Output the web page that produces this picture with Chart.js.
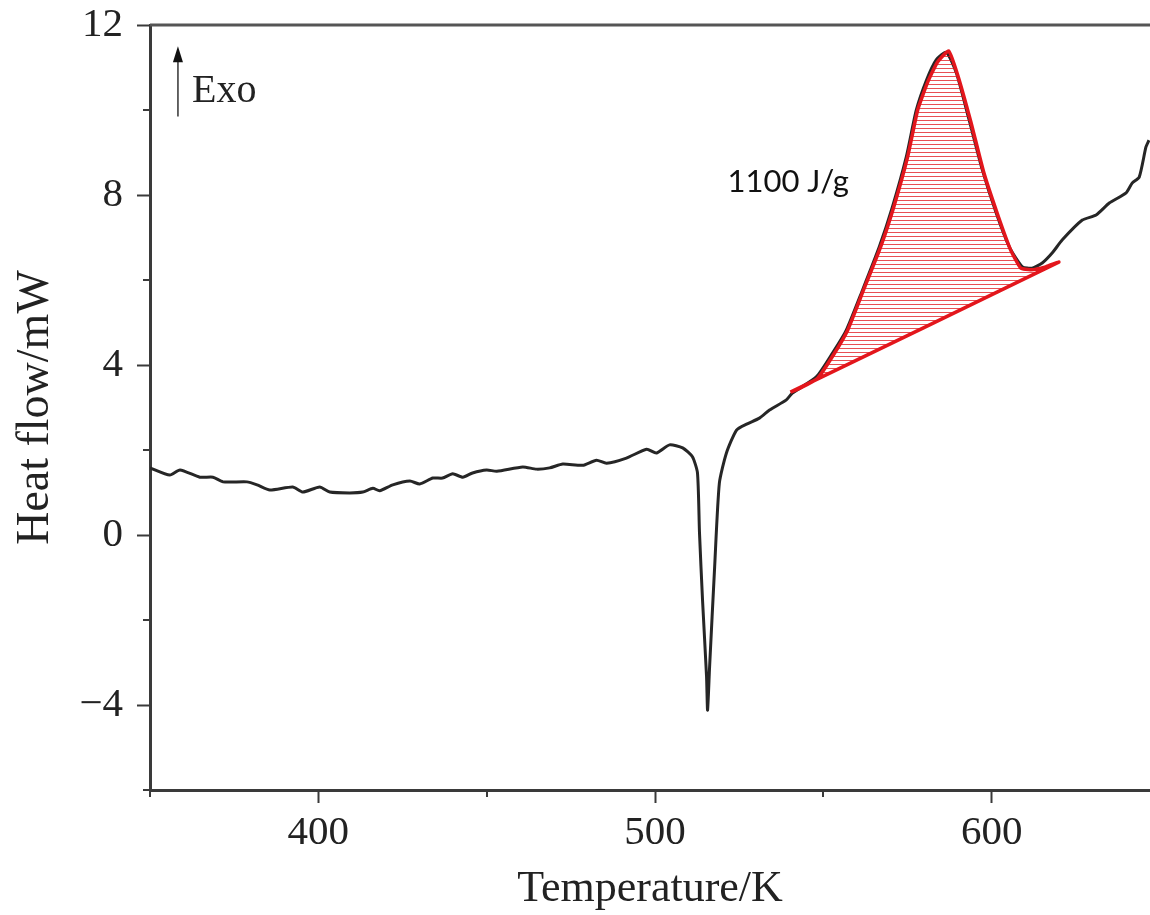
<!DOCTYPE html>
<html>
<head>
<meta charset="utf-8">
<script src="https://cdn.jsdelivr.net/npm/chart.js@4"></script>
<style>
  body { margin: 0; background: #fff; }
  canvas { display: block; }
</style>
</head>
<body>
<canvas id="myChart" width="1150" height="915"></canvas>
<script>
// DSC trace, temperature (K) vs heat flow (mW)
var temps = [350, 355.9, 358.9, 364.8, 368.7, 371.7, 378.8, 381.8, 385.6, 392.4,
  395.4, 400.4, 403.4, 409.3, 413.2, 416.2, 418.2, 422.1, 427.2, 430.1,
  434.0, 436.9, 439.9, 442.9, 445.8, 450.0, 453.0, 460.7, 464.8, 468.7,
  472.6, 478.5, 482.6, 485.6, 491.5, 497.5, 500.4, 504.3, 508.2, 511.1,
  512.6, 513.2, 514.1, 515.3, 515.6, 516.2, 517.7, 519.1, 521.2, 524.2,
  527.2, 531.0, 534.0, 539.0, 540.8, 547.9, 552.7, 556.8, 561.6, 566.6,
  570.5, 574.6, 577.6, 580.6, 583.5, 586.5, 589.5, 593.3, 597.2, 601.3,
  605.2, 609.1, 612.0, 615.0, 618.0, 620.9, 626.9, 631.0, 634.9, 639.9,
  641.7, 643.8, 645.8, 646.7];
var heatFlow = [1.58, 1.41, 1.53, 1.36, 1.36, 1.25, 1.25, 1.18, 1.06, 1.13,
  1.01, 1.13, 1.01, 0.99, 1.01, 1.10, 1.04, 1.18, 1.27, 1.20,
  1.34, 1.34, 1.44, 1.36, 1.46, 1.53, 1.50, 1.60, 1.55, 1.58,
  1.67, 1.64, 1.76, 1.69, 1.81, 2.02, 1.93, 2.12, 2.05, 1.84,
  1.46, 0.05, -1.53, -3.34, -4.12, -3.10, -0.75, 1.22, 1.93, 2.47,
  2.61, 2.75, 2.94, 3.18, 3.34, 3.72, 4.28, 4.82, 5.76, 6.78,
  7.72, 8.89, 10.0, 10.7, 11.18, 11.36, 10.87, 9.76, 8.59, 7.58,
  6.78, 6.31, 6.28, 6.40, 6.64, 6.94, 7.41, 7.53, 7.81, 8.05,
  8.28, 8.42, 9.13, 9.29];

// red integration outline: peak then baseline back to start
var peakX = [540.2, 543.2, 548.3, 553.0, 557.2, 561.9, 567.0, 570.9, 575.0, 578.0,
  581.0, 583.9, 587.2, 589.9, 593.8, 597.6, 601.8, 605.6, 608.6, 611.6,
  616.0, 619.9, 540.2];
var peakY = [3.36, 3.46, 3.69, 4.24, 4.82, 5.76, 6.78, 7.72, 8.89, 10.0,
  10.66, 11.13, 11.39, 10.82, 9.72, 8.54, 7.53, 6.71, 6.28, 6.24,
  6.31, 6.42, 3.36];

var xTicksMajor = [400, 500, 600];
var yTicksMajor = [-4, 0, 4, 8, 12];
var xTicksMinor = [350, 450, 550];
var yTicksMinor = [-6, -2, 2, 6, 10];

var enthalpyLabel = '1100 J/g';
var enthalpyPos = [521.5, 8.3];
var exoArrow = [358.3, 9.85, 11.5];
var exoLabel = 'Exo';

function toXY(xs, ys) {
  return xs.map(function (x, i) { return {x: x, y: ys[i]}; });
}
function fixedTicks(list) {
  return function (s) { s.ticks = list.map(function (v) { return {value: v}; }); };
}

var hatch = document.createElement('canvas');
hatch.width = 8; hatch.height = 4;
var hctx = hatch.getContext('2d');
hctx.fillStyle = 'rgba(224,20,25,0.75)';
hctx.fillRect(0, 0, 8, 1);

var serif = '"Liberation Serif", "Times New Roman", serif';
var axisColor = '#3a3a3a';

var extras = {
  id: 'extras',
  afterDraw: function (chart) {
    var c = chart.ctx, xs = chart.scales.x, ys = chart.scales.y, a = chart.chartArea;
    c.save();
    // top frame line
    c.strokeStyle = '#555';
    c.lineWidth = 3;
    c.beginPath();
    c.moveTo(a.left, a.top);
    c.lineTo(a.right, a.top);
    c.stroke();
    // minor ticks
    c.strokeStyle = axisColor;
    c.lineWidth = 2;
    c.beginPath();
    xTicksMinor.forEach(function (v) {
      var px = Math.round(xs.getPixelForValue(v));
      c.moveTo(px, a.bottom);
      c.lineTo(px, a.bottom + 7);
    });
    yTicksMinor.forEach(function (v) {
      var py = Math.round(ys.getPixelForValue(v));
      c.moveTo(a.left, py);
      c.lineTo(a.left - 7, py);
    });
    c.stroke();
    // Exo arrow
    var ax = xs.getPixelForValue(exoArrow[0]);
    var ay0 = ys.getPixelForValue(exoArrow[1]);
    var ay1 = ys.getPixelForValue(exoArrow[2]);
    c.strokeStyle = '#333';
    c.lineWidth = 1.5;
    c.beginPath();
    c.moveTo(ax, ay0);
    c.lineTo(ax, ay1 + 10);
    c.stroke();
    c.fillStyle = '#111';
    c.beginPath();
    c.moveTo(ax, ay1);
    c.lineTo(ax - 5, ay1 + 16);
    c.lineTo(ax + 5, ay1 + 16);
    c.closePath();
    c.fill();
    c.font = '40px ' + serif;
    c.fillStyle = '#222';
    c.textAlign = 'left';
    c.textBaseline = 'alphabetic';
    c.fillText(exoLabel, ax + 14, ys.getPixelForValue(10.2));
    // enthalpy annotation
    c.font = '31px Lato, "Open Sans", sans-serif';
    c.fillStyle = '#111';
    c.textBaseline = 'middle';
    c.fillText(enthalpyLabel, xs.getPixelForValue(enthalpyPos[0]), ys.getPixelForValue(enthalpyPos[1]));
    c.restore();
  }
};

var ctx = document.getElementById('myChart').getContext('2d');
var myChart = new Chart(ctx, {
  type: 'line',
  data: {
    datasets: [
      {
        data: toXY(peakX, peakY),
        borderColor: '#e3161c',
        borderWidth: 3.5,
        backgroundColor: ctx.createPattern(hatch, 'repeat'),
        fill: 'shape',
        pointRadius: 0,
        tension: 0.15,
        order: 0
      },
      {
        data: toXY(temps, heatFlow),
        borderColor: '#262626',
        borderWidth: 3,
        fill: false,
        pointRadius: 0,
        tension: 0.2,
        order: 1
      }
    ]
  },
  options: {
    responsive: false,
    animation: false,
    layout: { padding: { top: 25, right: 0, left: 0, bottom: 0 } },
    plugins: { legend: { display: false }, tooltip: { enabled: false } },
    scales: {
      x: {
        type: 'linear',
        min: 350,
        max: 647,
        afterBuildTicks: fixedTicks(xTicksMajor),
        afterFit: function (s) { s.height = 125; s.paddingLeft = 0; s.paddingRight = 0; },
        border: { color: axisColor, width: 3 },
        grid: { drawOnChartArea: false, tickLength: 13, tickColor: axisColor, tickWidth: 2 },
        ticks: {
          maxRotation: 0,
          autoSkip: false,
          padding: 6,
          color: '#222',
          font: { family: serif, size: 41 }
        },
        title: {
          display: true,
          text: 'Temperature/K',
          color: '#222',
          font: { family: serif, size: 44, lineHeight: 1 },
          padding: { top: 0, bottom: 4 }
        }
      },
      y: {
        min: -6,
        max: 12,
        afterBuildTicks: fixedTicks(yTicksMajor),
        afterFit: function (s) { s.width = 150; s.paddingTop = 0; s.paddingBottom = 0; },
        border: { color: axisColor, width: 3 },
        grid: { drawOnChartArea: false, tickLength: 13, tickColor: axisColor, tickWidth: 2 },
        ticks: {
          autoSkip: false,
          padding: 14,
          color: '#222',
          font: { family: serif, size: 41 },
          callback: function (v) { return v < 0 ? '\u2212' + Math.abs(v) : String(v); }
        },
        title: {
          display: true,
          text: 'Heat flow/mW',
          color: '#222',
          font: { family: serif, size: 46, lineHeight: 1 },
          padding: { top: 13, bottom: 0 }
        }
      }
    }
  },
  plugins: [extras]
});
</script>
</body>
</html>
